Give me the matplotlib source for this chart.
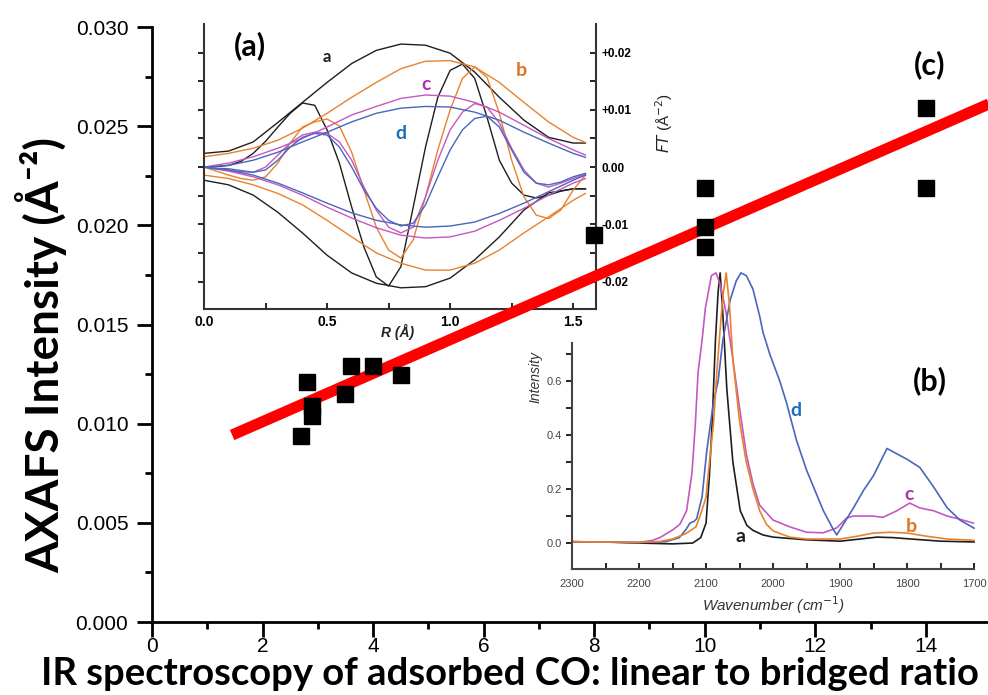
import matplotlib.pyplot as plt
import numpy as np

# ---- panel (c): AXAFS intensity vs IR linear/bridged ratio ----
ratio = [2.7, 2.8, 2.9, 2.9, 3.5, 3.6, 4.0, 4.5, 8.0, 10.0, 10.0, 10.0, 14.0, 14.0]
axafs = [0.0094, 0.0121, 0.0109, 0.0104, 0.0115, 0.0129, 0.0129, 0.01245,
         0.0195, 0.0219, 0.0199, 0.0189, 0.0259, 0.0219]
fit_from, fit_to = 1.45, 15.2

# ---- panel (a): FT of AXAFS, R grid ----
r_env = [0.0, 0.1, 0.2, 0.3, 0.4, 0.5, 0.6, 0.7, 0.8, 0.9, 1.0, 1.1, 1.2, 1.3, 1.4, 1.5, 1.55]
r_osc = [0.0, 0.05, 0.1, 0.15, 0.2, 0.25, 0.3, 0.35, 0.4, 0.45, 0.5, 0.55, 0.6, 0.65,
         0.7, 0.75, 0.8, 0.85, 0.9, 0.95, 1.0, 1.05, 1.1, 1.15, 1.2, 1.25, 1.3, 1.35,
         1.4, 1.45, 1.5, 1.55]

a_up = [0.0024, 0.0028, 0.0044, 0.0078, 0.0113, 0.0148, 0.0181, 0.0204, 0.0215,
        0.0213, 0.0199, 0.0166, 0.0122, 0.0082, 0.0052, 0.0042, 0.0042]
a_lo = [-0.0023, -0.0031, -0.0049, -0.0079, -0.0115, -0.0154, -0.0185, -0.0203, -0.0211,
        -0.0209, -0.0194, -0.0162, -0.0122, -0.0075, -0.0045, -0.0038, -0.0038]
a_im = [0.0, 0.0001, 0.0003, 0.0010, 0.0024, 0.0045, 0.0070, 0.0094, 0.0112, 0.0108,
        0.0065, 0.0007, -0.0070, -0.0140, -0.0192, -0.0208, -0.0174, -0.0070, 0.0035,
        0.0122, 0.0169, 0.0180, 0.0155, 0.0087, 0.0012, -0.0028, -0.0049, -0.0054,
        -0.0049, -0.0042, -0.0038, -0.0038]

b_up = [0.0018, 0.0024, 0.0033, 0.0047, 0.0068, 0.0094, 0.0122, 0.0148, 0.0172,
        0.0185, 0.0186, 0.0175, 0.0148, 0.0113, 0.0079, 0.0052, 0.0043]
b_lo = [-0.0014, -0.0020, -0.0031, -0.0046, -0.0066, -0.0093, -0.0122, -0.0150, -0.0168,
        -0.0180, -0.0180, -0.0168, -0.0145, -0.0115, -0.0087, -0.0058, -0.0046]
b_im = [0.0, -0.0007, -0.0014, -0.0020, -0.0023, -0.0017, 0.0007, 0.0042, 0.0070, 0.0079,
        0.0084, 0.0072, 0.0026, -0.0040, -0.0105, -0.0145, -0.0159, -0.0127, -0.0052,
        0.0030, 0.0100, 0.0155, 0.0175, 0.0157, 0.0094, 0.0012, -0.0052, -0.0084,
        -0.0090, -0.0075, -0.0040, -0.0014]

c_up = [0.0, 0.0007, 0.0018, 0.0033, 0.0050, 0.0070, 0.0091, 0.0106, 0.0120,
        0.0126, 0.0124, 0.0113, 0.0096, 0.0073, 0.0050, 0.0030, 0.0021]
c_lo = [0.0, -0.0007, -0.0017, -0.0031, -0.0049, -0.0070, -0.0089, -0.0106, -0.0119,
        -0.0124, -0.0122, -0.0112, -0.0093, -0.0072, -0.0049, -0.0028, -0.0020]
c_im = [0.0, -0.0003, -0.0006, -0.0008, -0.0009, 0.0, 0.0021, 0.0042, 0.0056, 0.0061,
        0.0059, 0.0044, 0.0012, -0.0035, -0.0075, -0.0105, -0.0115, -0.0105, -0.0052,
        0.0012, 0.0065, 0.0096, 0.0111, 0.0105, 0.0077, 0.0033, -0.0005, -0.0028,
        -0.0035, -0.0028, -0.0020, -0.0012]

d_up = [0.0, 0.0003, 0.0012, 0.0026, 0.0044, 0.0061, 0.0079, 0.0094, 0.0103,
        0.0106, 0.0105, 0.0096, 0.0082, 0.0061, 0.0042, 0.0024, 0.0017]
d_lo = [0.0, -0.0005, -0.0014, -0.0028, -0.0045, -0.0063, -0.0080, -0.0093, -0.0101,
        -0.0105, -0.0103, -0.0096, -0.0081, -0.0063, -0.0043, -0.0023, -0.0014]
d_im = [0.0, -0.0002, -0.0003, -0.0006, -0.0009, -0.0005, 0.0012, 0.0035, 0.0052, 0.0059,
        0.0056, 0.0035, 0.0, -0.0040, -0.0072, -0.0093, -0.0103, -0.0098, -0.0066,
        -0.0017, 0.0030, 0.0065, 0.0085, 0.0089, 0.0070, 0.0030, -0.0009, -0.0028,
        -0.0031, -0.0026, -0.0017, -0.0011]

# ---- panel (b): IR spectra ----
wn_a = [2300, 2250, 2200, 2150, 2120, 2108, 2100, 2095, 2091, 2086, 2082, 2079, 2075,
        2069, 2060, 2049, 2039, 2030, 2015, 2000, 1950, 1900, 1870, 1845, 1820, 1800,
        1750, 1700]
ir_a = [0.005, 0.004, 0.0, -0.003, 0.0, 0.02, 0.074, 0.25, 0.44, 0.75, 0.93, 1.0, 0.85,
        0.57, 0.30, 0.12, 0.065, 0.047, 0.03, 0.022, 0.012, 0.007, 0.015, 0.022, 0.02,
        0.016, 0.007, 0.004]
wn_b = [2300, 2200, 2169, 2150, 2130, 2115, 2109, 2100, 2097, 2089, 2084, 2079, 2075,
        2070, 2065, 2060, 2050, 2040, 2030, 2020, 2010, 2000, 1975, 1950, 1900, 1875,
        1850, 1825, 1800, 1770, 1740, 1700]
ir_b = [0.005, 0.003, 0.006, 0.015, 0.035, 0.06, 0.1, 0.17, 0.25, 0.44, 0.63, 0.79, 0.91,
        1.0, 0.88, 0.68, 0.45, 0.30, 0.20, 0.12, 0.07, 0.045, 0.022, 0.015, 0.015, 0.025,
        0.037, 0.040, 0.037, 0.025, 0.015, 0.01]
wn_c = [2300, 2200, 2180, 2169, 2149, 2139, 2129, 2121, 2116, 2112, 2106, 2101, 2092,
        2085, 2078, 2070, 2060, 2050, 2040, 2030, 2020, 2000, 1975, 1950, 1925, 1905,
        1890, 1880, 1851, 1836, 1815, 1796, 1781, 1761, 1740, 1721, 1701]
ir_c = [0.005, 0.002, 0.01, 0.02, 0.05, 0.07, 0.12, 0.26, 0.44, 0.63, 0.75, 0.87, 0.99,
        1.0, 0.95, 0.85, 0.68, 0.5, 0.33, 0.22, 0.14, 0.085, 0.06, 0.04, 0.038, 0.056,
        0.093, 0.1, 0.1, 0.095, 0.12, 0.148, 0.13, 0.12, 0.10, 0.088, 0.074]
wn_d = [2300, 2200, 2160, 2140, 2130, 2124, 2118, 2114, 2106, 2099, 2089, 2082, 2075,
        2064, 2055, 2048, 2040, 2030, 2020, 2015, 2005, 1990, 1980, 1965, 1950, 1940,
        1925, 1910, 1905, 1890, 1880, 1865, 1850, 1840, 1830, 1815, 1800, 1781, 1761,
        1740, 1721, 1700]
ir_d = [0.005, 0.002, 0.005, 0.02, 0.05, 0.074, 0.08, 0.09, 0.17, 0.34, 0.52, 0.60, 0.75,
        0.9, 0.97, 1.0, 0.99, 0.94, 0.84, 0.78, 0.70, 0.60, 0.52, 0.38, 0.27, 0.21,
        0.12, 0.05, 0.03, 0.09, 0.13, 0.195, 0.25, 0.30, 0.35, 0.33, 0.31, 0.28, 0.21,
        0.13, 0.085, 0.055]

BLACK, ORANGE, MAGENTA, BLUE = "#1e1e1e", "#e8822c", "#c458c0", "#4a66bb"
LBL_ORANGE, LBL_MAGENTA, LBL_BLUE = "#e07420", "#b42db4", "#1f6eb8"
HEAD = ["Lato", "DejaVu Sans"]

plt.rcParams["font.family"] = ["Liberation Sans", "DejaVu Sans"]
plt.rcParams["mathtext.fontset"] = "dejavusans"

fig = plt.figure(figsize=(9.88, 6.95), dpi=100)

# inset (a)
ax_a = fig.add_axes([0.2065, 0.5554, 0.3968, 0.410])
ax_a.patch.set_alpha(0)
for up, lo, im, col in [(a_up, a_lo, a_im, BLACK), (b_up, b_lo, b_im, ORANGE),
                        (c_up, c_lo, c_im, MAGENTA), (d_up, d_lo, d_im, BLUE)]:
    ax_a.plot(r_env, up, color=col, lw=1.0)
    ax_a.plot(r_env, lo, color=col, lw=1.0)
    ax_a.plot(r_osc, im, color=col, lw=1.0)
ax_a.set_xlim(0, 1.593)
ax_a.set_ylim(-0.0248, 0.025)
ax_a.spines["top"].set_visible(False)
ax_a.spines["right"].set_visible(False)
for s in ["left", "bottom"]:
    ax_a.spines[s].set_linewidth(1.5)
    ax_a.spines[s].set_color("#333333")
ax_a.set_xticks([0.0, 0.5, 1.0, 1.5])
ax_a.set_xticks(np.arange(0.25, 1.6, 0.5), minor=True)
ax_a.set_xticklabels(["0.0", "0.5", "1.0", "1.5"], fontsize=10, fontweight="bold")
ax_a.set_yticks(np.arange(-0.02, 0.0201, 0.005))
ax_a.set_yticklabels([])
ax_a.tick_params(axis="x", which="both", direction="in", length=4, width=1.2, pad=4)
ax_a.tick_params(axis="y", direction="out", length=4, width=1.2)
sec = ax_a.secondary_yaxis("right")
sec.spines["right"].set_linewidth(1.5)
sec.spines["right"].set_color("#333333")
sec.set_yticks([0.02, 0.01, 0.0, -0.01, -0.02])
sec.set_yticklabels(["+0.02", "+0.01", "0.00", "-0.01", "-0.02"], fontsize=8.5,
                    fontweight="bold")
sec.set_yticks(np.arange(-0.015, 0.02, 0.01), minor=True)
sec.tick_params(which="both", direction="in", length=4, width=1.2, pad=4)
ax_a.text(0.187, 0.0213, "(a)", fontsize=22, fontweight="bold", family=HEAD,
          ha="center", va="center")
ax_a.text(0.50, 0.0192, "a", color=BLACK, fontsize=12, fontweight="bold", family=HEAD,
          ha="center", va="center")
ax_a.text(1.289, 0.0169, "b", color=LBL_ORANGE, fontsize=14, fontweight="bold",
          family=HEAD, ha="center", va="center")
ax_a.text(0.902, 0.0145, "c", color=LBL_MAGENTA, fontsize=14, fontweight="bold",
          family=HEAD, ha="center", va="center")
ax_a.text(0.80, 0.0058, "d", color=LBL_BLUE, fontsize=14, fontweight="bold",
          family=HEAD, ha="center", va="center")
fig.text(398 / 988, 1 - 332 / 695, "R (Å)", fontsize=10, style="italic",
         fontweight="bold", ha="center", va="center", color="#222222")
fig.text(664 / 988, 1 - 123 / 695, r"$\mathit{FT}$ (Å$^{-2}$)", fontsize=11,
         rotation=90, ha="center", va="center", color="#222222")

# inset (b)
ax_b = fig.add_axes([0.579, 0.1813, 0.4069, 0.325])
ax_b.patch.set_alpha(0)
for wn, it, col in [(wn_a, ir_a, BLACK), (wn_c, ir_c, MAGENTA),
                    (wn_d, ir_d, BLUE), (wn_b, ir_b, ORANGE)]:
    ax_b.plot(wn, it, color=col, lw=1.2, clip_on=False)
ax_b.set_xlim(2300, 1700)
ax_b.set_ylim(-0.096, 0.74)
ax_b.spines["top"].set_visible(False)
ax_b.spines["right"].set_visible(False)
for s in ["left", "bottom"]:
    ax_b.spines[s].set_linewidth(1.5)
    ax_b.spines[s].set_color("#444444")
ax_b.set_xticks(np.arange(2300, 1699, -100))
ax_b.set_xticks(np.arange(2250, 1700, -100), minor=True)
ax_b.set_yticks([0.0, 0.2, 0.4, 0.6])
ax_b.set_yticks([0.1, 0.3, 0.5, 0.7], minor=True)
ax_b.set_yticklabels(["0.0", "0.2", "0.4", "0.6"])
ax_b.tick_params(axis="x", which="both", direction="in", length=4, width=1.2,
                 labelsize=8, labelcolor="#444444", pad=7)
ax_b.tick_params(axis="y", which="both", direction="out", length=4, width=1.2,
                 labelsize=8, labelcolor="#444444")
ax_b.set_xlabel("Wavenumber (cm$^{-1}$)", fontsize=11, style="italic",
                color="#333333", labelpad=4)
ax_b.set_ylabel("Intensity", fontsize=10, style="italic", color="#333333")
ax_b.yaxis.set_label_coords(-0.074, 0.85)
ax_b.text(1966, 0.49, "d", color=LBL_BLUE, fontsize=14, fontweight="bold", family=HEAD,
          ha="center", va="center")
ax_b.text(1797, 0.178, "c", color=LBL_MAGENTA, fontsize=14, fontweight="bold",
          family=HEAD, ha="center", va="center")
ax_b.text(1793, 0.06, "b", color=LBL_ORANGE, fontsize=14, fontweight="bold",
          family=HEAD, ha="center", va="center")
ax_b.text(2048, 0.026, "a", color=BLACK, fontsize=14, fontweight="bold", family=HEAD,
          ha="center", va="center")
ax_b.text(1766, 0.60, "(b)", fontsize=22, fontweight="bold", family=HEAD,
          ha="center", va="center")

# main panel (c) on top, transparent
ax = fig.add_axes([0.1538, 0.105, 0.846, 0.856], zorder=3)
ax.patch.set_alpha(0)
slope, icpt = np.polyfit(ratio, axafs, 1)
fx = np.array([fit_from, fit_to])
ax.plot(fx, slope * fx + icpt, color="#ff0000", lw=8, solid_capstyle="butt", zorder=2)
ax.plot(ratio, axafs, "s", color="black", ms=11, zorder=3, clip_on=False)
ax.set_xlim(0, 15.12)
ax.set_ylim(0, 0.030)
ax.spines["top"].set_visible(False)
ax.spines["right"].set_visible(False)
for s in ["left", "bottom"]:
    ax.spines[s].set_linewidth(2)
ax.set_xticks(np.arange(0, 15, 2))
ax.set_xticks(np.arange(1, 15, 2), minor=True)
ax.set_yticks(np.arange(0, 0.0301, 0.005))
ax.set_yticks(np.arange(0.0025, 0.03, 0.005), minor=True)
ax.set_yticklabels([f"{v:.3f}" for v in np.arange(0, 0.0301, 0.005)], fontsize=15)
ax.set_xticklabels([str(v) for v in range(0, 15, 2)], fontsize=15,
                   family=["Liberation Sans Narrow", "Liberation Sans"])
ax.tick_params(which="major", direction="out", length=11, width=2, pad=6)
ax.tick_params(which="minor", direction="out", length=5, width=2)
ax.tick_params(axis="x", pad=0)
ax.text(14.07, 0.0281, "(c)", fontsize=22, fontweight="bold", family=HEAD,
        ha="center", va="center")

fig.text(510 / 988, 0.014, "IR spectroscopy of adsorbed CO: linear to bridged ratio",
         fontsize=27.5, fontweight="bold", family=HEAD, ha="center", va="baseline")
fig.text(41 / 988, 0.489, "AXAFS Intensity (Å⁻²)", fontsize=33,
         fontweight="bold", family=HEAD, rotation=90, ha="center", va="center")

fig.savefig("out.png", dpi=100)
